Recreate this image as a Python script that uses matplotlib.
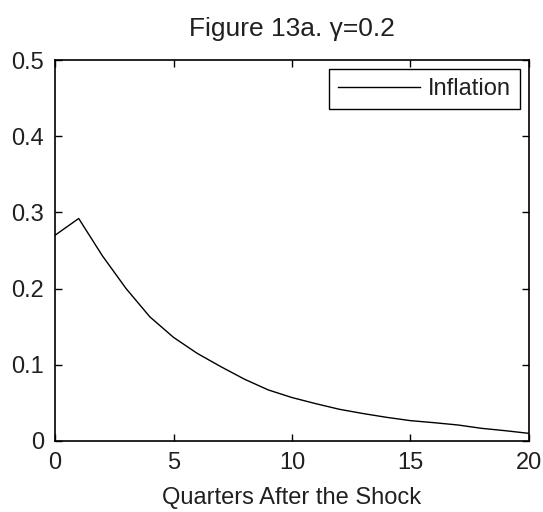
import matplotlib

matplotlib.use("Agg")
import matplotlib.pyplot as plt

# impulse response
quarters = list(range(21))
inflation = [0.270, 0.292, 0.243, 0.200, 0.163, 0.136, 0.115, 0.0975, 0.081,
             0.067, 0.057, 0.049, 0.0416, 0.036, 0.031, 0.0267, 0.024, 0.021,
             0.0166, 0.0135, 0.010]
x_ticks = [0, 5, 10, 15, 20]
y_ticks = [0, 0.1, 0.2, 0.3, 0.4, 0.5]
y_tick_labels = ["0", "0.1", "0.2", "0.3", "0.4", "0.5"]

plt.rcParams["font.family"] = ["Liberation Sans", "DejaVu Sans"]

fig = plt.figure(figsize=(5.43, 5.12), dpi=100)
ax = fig.add_axes([0.1013, 0.1387, 0.8729, 0.7441])
ax.plot(quarters, inflation, color="black", linewidth=1.0, label="Inflation")

ax.set_xlim(0, 20)
ax.set_ylim(0, 0.5)
ax.set_xticks(x_ticks)
ax.set_yticks(y_ticks)
ax.set_yticklabels(y_tick_labels)
ax.tick_params(direction="in", length=5, width=1, top=True, right=True,
               labelsize=17, pad=8, labelcolor="#202020")
for s in ax.spines.values():
    s.set_linewidth(1.2)

ax.set_xlabel("Quarters After the Shock", fontsize=17, labelpad=9, color="#202020")
ax.set_title("Figure 13a. \u03b3=0.2", fontsize=19, pad=17, color="#202020")

leg = ax.legend(loc="upper right", fontsize=17, fancybox=False, framealpha=1,
                edgecolor="black", handlelength=3.5, borderaxespad=0.4,
                handletextpad=0.3, borderpad=0.38)
leg.get_frame().set_linewidth(1.0)
for t in leg.get_texts():
    t.set_color("#202020")

fig.savefig("out.png", dpi=100)
